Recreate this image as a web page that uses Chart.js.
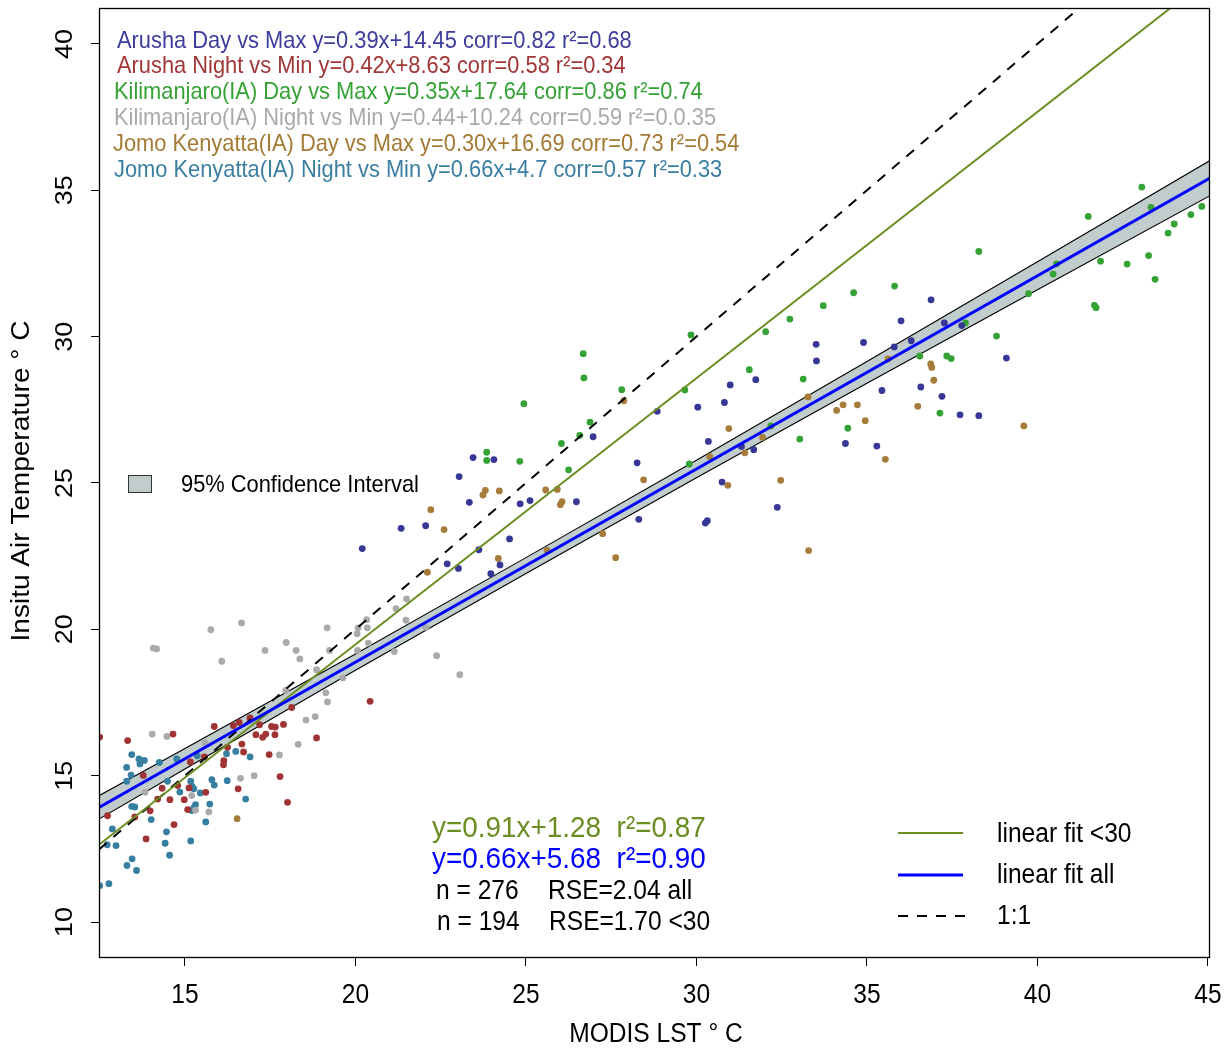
<!DOCTYPE html>
<html>
<head>
<meta charset="utf-8">
<title>MODIS LST vs Insitu Air Temperature</title>
<script src="https://cdn.jsdelivr.net/npm/chart.js@4.4.1/dist/chart.umd.min.js"></script>
<style>
  html, body { margin: 0; padding: 0; background: #ffffff; }
  #wrap { width: 1229px; height: 1049px; }
</style>
</head>
<body>
<div id="wrap"><canvas id="c" width="1229" height="1049"></canvas></div>
<script>
// ---- Axis ticks ----
const xTicks = [15, 20, 25, 30, 35, 40, 45];
const yTicks = [10, 15, 20, 25, 30, 35, 40];
const xRange = [12.48, 45.06];
const yRange = [8.77, 41.23];

// ---- Observations: [MODIS LST, in-situ air temperature] ----
const arushaDay = [
  [20.20,22.76],[21.34,23.45],[22.06,23.54],[23.34,24.34],[22.69,22.24],[23.02,22.08],[23.62,22.72],
  [23.45,25.87],[24.06,25.80],[23.04,25.22],[24.83,24.29],[25.12,24.40],[26.48,24.36],[26.97,26.58],
  [28.85,27.45],[30.04,27.59],[28.26,25.69],[28.31,23.76],[24.52,23.09],[23.97,21.90],[24.24,22.20],
  [36.88,31.26],[36.00,30.54],[37.27,30.47],[37.78,30.38],[33.51,29.74],[34.90,29.80],[33.52,29.17],
  [35.80,29.65],[36.30,29.86],[30.99,28.35],[31.74,28.53],[30.82,27.75],[35.44,28.16],[36.58,28.28],
  [37.20,27.96],[39.09,29.27],[37.73,27.33],[38.28,27.30],[30.35,26.42],[31.32,26.25],[31.68,26.14],
  [34.37,26.35],[35.29,26.26],[30.75,25.03],[32.37,24.17],[30.26,23.63],[30.32,23.71]
];
const arushaNight = [
  [12.50,16.32],[13.32,16.20],[14.65,16.42],[15.86,16.68],[16.42,16.71],[16.59,16.82],[16.91,16.97],
  [17.19,16.74],[17.54,16.68],[17.65,16.66],[17.89,16.75],[18.13,17.33],[17.08,16.40],[17.28,16.31],
  [17.37,16.42],[17.64,16.40],[18.86,16.29],[16.67,16.08],[16.25,15.97],[16.72,15.81],[16.14,15.51],
  [16.13,15.37],[17.47,15.72],[15.16,15.47],[15.57,15.64],[13.78,15.01],[17.79,14.97],[14.79,14.66],
  [14.33,14.57],[14.20,14.20],[14.56,14.18],[14.98,14.18],[15.12,14.58],[15.61,14.43],[16.56,14.55],
  [18.01,14.09],[15.08,13.84],[13.98,13.80],[12.73,13.63],[13.53,13.59],[14.68,13.33],[13.86,12.84],
  [20.43,17.54]
];
const kiliDay = [
  [26.68,29.42],[26.70,28.59],[29.84,30.06],[27.81,28.19],[29.66,28.18],[24.94,27.71],[26.88,27.08],
  [26.58,26.63],[26.04,26.35],[23.85,26.05],[23.85,25.77],[24.82,25.74],[26.25,25.45],[29.79,25.65],
  [43.06,35.11],[43.33,34.42],[41.49,34.11],[44.01,33.85],[43.83,33.54],[44.50,34.17],[44.82,34.45],
  [38.28,32.91],[40.56,32.49],[40.46,32.14],[41.85,32.58],[42.63,32.48],[43.26,32.77],[43.45,31.96],
  [39.74,31.47],[41.67,31.07],[41.72,30.99],[35.81,31.73],[34.61,31.50],[33.72,31.06],[32.74,30.60],
  [32.03,30.17],[31.55,28.87],[33.13,28.55],[37.89,30.47],[38.80,30.02],[36.55,29.34],[37.34,29.34],
  [37.47,29.25],[37.14,27.39],[34.44,26.87],[33.03,26.50],[32.18,26.95]
];
const kiliNight = [
  [15.76,19.99],[16.66,20.22],[14.07,19.36],[14.17,19.33],[16.08,18.91],[17.35,19.28],[17.97,19.55],
  [18.26,19.28],[18.37,18.99],[19.17,20.05],[19.24,19.28],[18.86,18.62],[19.63,18.34],[17.96,17.91],
  [19.13,17.83],[19.18,17.52],[18.82,17.02],[18.55,16.90],[18.32,16.07],[17.77,15.71],[17.03,15.00],
  [16.63,14.91],[14.04,16.42],[14.47,16.34],[13.83,14.43],[15.20,14.32],[15.70,13.76],[15.59,16.12],
  [20.08,20.05],[20.33,20.33],[20.35,20.05],[20.05,19.85],[20.38,19.53],[20.06,19.28],[21.14,19.24],
  [21.50,21.04],[21.19,20.71],[21.48,20.31],[22.07,20.07],[22.38,19.10],[23.06,18.45],[15.31,13.82]
];
const jomoDay = [
  [22.21,24.09],[22.60,23.41],[22.11,21.95],[27.87,27.81],[28.45,25.11],[23.81,24.75],[23.74,24.59],
  [24.22,24.73],[25.58,24.76],[25.92,24.78],[26.06,24.36],[26.01,24.26],[24.19,22.42],[25.62,22.70],
  [27.25,23.27],[27.63,22.45],[35.62,29.24],[36.87,29.07],[36.90,28.95],[36.96,28.51],[33.27,27.94],
  [34.11,27.48],[34.30,27.67],[34.72,27.67],[36.49,27.62],[34.95,27.13],[30.95,26.86],[31.94,26.56],
  [39.60,26.95],[30.39,25.90],[31.42,26.03],[30.92,24.92],[32.47,25.09],[35.54,25.81],[33.29,22.69],
  [16.53,13.53]
];
const jomoNight = [
  [13.44,15.72],[13.65,15.57],[13.81,15.52],[13.68,15.40],[13.29,15.28],[13.42,15.02],[13.29,14.81],
  [14.25,15.45],[14.76,15.57],[15.36,15.68],[16.22,15.75],[16.49,15.83],[16.91,15.64],[14.49,14.81],
  [14.85,14.44],[15.17,14.81],[15.21,14.63],[15.26,14.55],[15.45,14.41],[15.79,14.86],[15.86,14.68],
  [16.24,14.83],[16.78,14.20],[15.73,14.03],[15.31,14.01],[15.26,13.90],[15.20,13.81],[13.44,13.95],
  [13.53,13.93],[14.01,13.50],[15.61,13.42],[12.87,13.18],[14.46,13.08],[12.72,12.64],[12.98,12.61],
  [14.42,12.69],[15.17,12.77],[14.55,12.28],[13.45,12.16],[13.30,11.93],[13.58,11.76],[12.77,11.31],
  [12.50,11.24]
];

// ---- Regression lines: [slope, intercept] ----
const fitBelow30 = [0.91, 1.28];
const fitAll = [0.66, 5.68];

// ---- 95% confidence band of the overall fit: half-width at MODIS LST ----
const bandX = [12.48, 15, 20, 25, 30, 35, 40, 45.06];
const bandHalf = [0.40, 0.35, 0.28, 0.27, 0.30, 0.37, 0.48, 0.60];

// ---- Series labels ----
const seriesNames = [
  'Arusha Day vs Max y=0.39x+14.45 corr=0.82 r\u00b2=0.68',
  'Arusha Night vs Min y=0.42x+8.63 corr=0.58 r\u00b2=0.34',
  'Kilimanjaro(IA) Day vs Max y=0.35x+17.64 corr=0.86 r\u00b2=0.74',
  'Kilimanjaro(IA) Night vs Min y=0.44+10.24 corr=0.59 r\u00b2=0.0.35',
  'Jomo Kenyatta(IA) Day vs Max y=0.30x+16.69 corr=0.73 r\u00b2=0.54',
  'Jomo Kenyatta(IA) Night vs Min y=0.66x+4.7 corr=0.57 r\u00b2=0.33'
];
const seriesColors = ['#373796', '#a03434', '#34a234', '#aaaaaa', '#a67c3a', '#367fa0'];
const textColors   = ['#3c3c9c', '#a23636', '#35a235', '#aaaaaa', '#a47a34', '#3a7fa2'];

const OLIVE = '#6B8E23';
const BLUE = '#0000FF';
const AZURE3 = '#C1CDCD';
const FONT = '"Liberation Sans", Arial, Helvetica, sans-serif';

const toXY = arr => arr.map(p => ({ x: p[0], y: p[1] }));
const lineFrom = (coef, x0, x1) => [
  { x: x0, y: coef[0] * x0 + coef[1] },
  { x: x1, y: coef[0] * x1 + coef[1] }
];

const pointSets = [arushaDay, arushaNight, kiliDay, kiliNight, jomoDay, jomoNight];

const datasets = [];
// confidence band (drawn first, underneath)
datasets.push({
  type: 'line',
  data: bandX.map((x, i) => ({ x, y: fitAll[0] * x + fitAll[1] + bandHalf[i] })),
  borderColor: '#000000', borderWidth: 1.1, pointRadius: 0, tension: 0,
  backgroundColor: AZURE3, fill: '+1', order: 5
});
datasets.push({
  type: 'line',
  data: bandX.map((x, i) => ({ x, y: fitAll[0] * x + fitAll[1] - bandHalf[i] })),
  borderColor: '#000000', borderWidth: 1.1, pointRadius: 0, tension: 0,
  fill: false, order: 4
});
// observation points
pointSets.forEach((set, i) => {
  datasets.push({
    type: 'scatter',
    data: toXY(set),
    pointRadius: 3.4, pointHoverRadius: 3.4, pointBorderWidth: 0,
    backgroundColor: seriesColors[i], pointBackgroundColor: seriesColors[i],
    order: 3
  });
});
// 1:1 line
datasets.push({
  type: 'line',
  data: [{ x: xRange[0], y: xRange[0] }, { x: xRange[1], y: xRange[1] }],
  borderColor: '#000000', borderWidth: 2, borderDash: [10, 9], pointRadius: 0, fill: false, order: 2
});
// linear fit < 30
datasets.push({
  type: 'line',
  data: lineFrom(fitBelow30, xRange[0], xRange[1]),
  borderColor: OLIVE, borderWidth: 2, pointRadius: 0, fill: false, order: 1
});
// linear fit all
datasets.push({
  type: 'line',
  data: lineFrom(fitAll, xRange[0], xRange[1]),
  borderColor: BLUE, borderWidth: 3, pointRadius: 0, fill: false, order: 0
});

// condensed horizontal text
function hText(ctx, s, x, y, size, color, align, sx) {
  ctx.save();
  ctx.translate(x, y);
  ctx.scale(sx === undefined ? 0.91 : sx, 1);
  ctx.font = size + 'px ' + FONT;
  ctx.fillStyle = color;
  ctx.textAlign = align || 'left';
  ctx.textBaseline = 'middle';
  ctx.fillText(s, 0, 0);
  ctx.restore();
}
// vertical text reading bottom-to-top
function vText(ctx, s, x, y, size, color, sy) {
  ctx.save();
  ctx.translate(x, y);
  ctx.rotate(-Math.PI / 2);
  ctx.scale(1, sy === undefined ? 0.91 : sy);
  ctx.font = size + 'px ' + FONT;
  ctx.fillStyle = color;
  ctx.textAlign = 'center';
  ctx.textBaseline = 'middle';
  ctx.fillText(s, 0, 0);
  ctx.restore();
}

const decorations = {
  id: 'decorations',
  afterDraw(chart) {
    const ctx = chart.ctx;
    const a = chart.chartArea;
    const xs = chart.scales.x, ys = chart.scales.y;

    // plot frame
    ctx.save();
    ctx.strokeStyle = '#000000';
    ctx.lineWidth = 1.3;
    ctx.strokeRect(a.left + 0.5, a.top + 0.5, a.right - a.left - 1, a.bottom - a.top - 1);
    ctx.restore();

    // tick labels
    xTicks.forEach(v => hText(ctx, String(v), xs.getPixelForValue(v), 996, 27, '#000', 'center'));
    yTicks.forEach(v => vText(ctx, String(v), 65, ys.getPixelForValue(v), 27, '#000'));

    // axis titles
    hText(ctx, 'MODIS LST \u00b0 C', 656, 1035, 27, '#000', 'center');
    vText(ctx, 'Insitu Air Temperature \u00b0 C', 22, 481, 28, '#000');

    // series labels (top left)
    const lx = [117, 117, 114, 114, 113, 114];
    seriesNames.forEach((s, i) => hText(ctx, s, lx[i], 41 + i * 25.8, 24, textColors[i], 'left'));

    // confidence interval key
    ctx.save();
    ctx.fillStyle = AZURE3;
    ctx.strokeStyle = '#333333';
    ctx.lineWidth = 1;
    ctx.fillRect(128.5, 475.5, 23, 17);
    ctx.strokeRect(128.5, 475.5, 23, 17);
    ctx.restore();
    hText(ctx, '95% Confidence Interval', 181, 485, 24, '#000', 'left');

    // fit statistics
    const f1 = 'y=' + fitBelow30[0].toFixed(2) + 'x+' + fitBelow30[1].toFixed(2) + '  r\u00b2=0.87';
    const f2 = 'y=' + fitAll[0].toFixed(2) + 'x+' + fitAll[1].toFixed(2) + '  r\u00b2=0.90';
    hText(ctx, f1, 432, 829, 30, OLIVE, 'left', 0.93);
    hText(ctx, f2, 432, 860, 30, BLUE, 'left', 0.93);
    hText(ctx, 'n = 276', 436, 892, 27, '#000', 'left');
    hText(ctx, 'RSE=2.04 all', 548, 892, 27, '#000', 'left');
    hText(ctx, 'n = 194', 437, 923, 27, '#000', 'left');
    hText(ctx, 'RSE=1.70 <30', 549, 923, 27, '#000', 'left');

    // line key
    ctx.save();
    ctx.lineCap = 'butt';
    ctx.strokeStyle = OLIVE; ctx.lineWidth = 2;
    ctx.beginPath(); ctx.moveTo(898, 833); ctx.lineTo(963, 833); ctx.stroke();
    ctx.strokeStyle = BLUE; ctx.lineWidth = 3;
    ctx.beginPath(); ctx.moveTo(898, 875); ctx.lineTo(963, 875); ctx.stroke();
    ctx.strokeStyle = '#000'; ctx.lineWidth = 2; ctx.setLineDash([10, 9]);
    ctx.beginPath(); ctx.moveTo(898, 916); ctx.lineTo(965, 916); ctx.stroke();
    ctx.restore();
    hText(ctx, 'linear fit <30', 997, 835, 27, '#000', 'left');
    hText(ctx, 'linear fit all', 997, 876, 27, '#000', 'left');
    hText(ctx, '1:1', 997, 917, 27, '#000', 'left');
  }
};

const axisGrid = { display: true, drawOnChartArea: false, drawTicks: true, tickLength: 8, color: '#000000', lineWidth: 1 };

new Chart(document.getElementById('c'), {
  type: 'scatter',
  data: { datasets },
  options: {
    responsive: false,
    animation: false,
    events: [],
    layout: { padding: { top: 8, right: 19, left: 0, bottom: 0 } },
    plugins: { legend: { display: false }, tooltip: { enabled: false } },
    scales: {
      x: {
        type: 'linear', min: xRange[0], max: xRange[1],
        afterBuildTicks: s => { s.ticks = xTicks.map(v => ({ value: v })); },
        afterFit: s => { s.height = 91; },
        ticks: { display: false },
        grid: axisGrid,
        border: { display: false }
      },
      y: {
        type: 'linear', min: yRange[0], max: yRange[1],
        afterBuildTicks: s => { s.ticks = yTicks.map(v => ({ value: v })); },
        afterFit: s => { s.width = 99; },
        ticks: { display: false },
        grid: axisGrid,
        border: { display: false }
      }
    }
  },
  plugins: [decorations]
});
</script>
</body>
</html>
